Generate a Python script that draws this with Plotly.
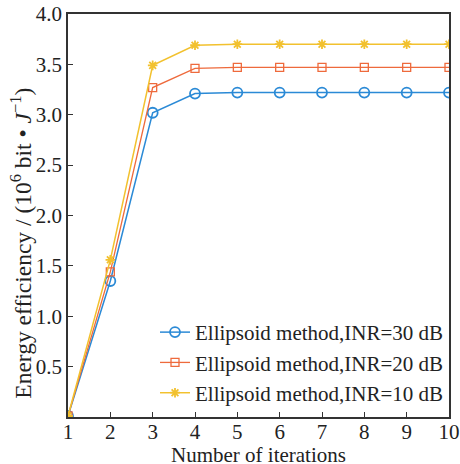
import plotly.graph_objects as go

iterations = [1, 2, 3, 4, 5, 6, 7, 8, 9, 10]
inr30 = [0.01, 1.35, 3.02, 3.21, 3.22, 3.22, 3.22, 3.22, 3.22, 3.22]
inr20 = [0.01, 1.44, 3.27, 3.46, 3.47, 3.47, 3.47, 3.47, 3.47, 3.47]
inr10 = [0.01, 1.56, 3.49, 3.69, 3.70, 3.70, 3.70, 3.70, 3.70, 3.70]
names = ["Ellipsoid method,INR=30 dB", "Ellipsoid method,INR=20 dB", "Ellipsoid method,INR=10 dB"]
x_ticks = [1, 2, 3, 4, 5, 6, 7, 8, 9, 10]
y_ticks = [0.5, 1.0, 1.5, 2.0, 2.5, 3.0, 3.5, 4.0]
x_title = "Number of iterations"
y_title = "Energy efficiency / (10<sup>6</sup> bit • <i>J</i><sup>−1</sup>)"

FONT = "Liberation Serif, Times New Roman, serif"
FS = 21

fig = go.Figure()
fig.add_trace(go.Scatter(x=iterations, y=inr30, name=names[0], mode="lines+markers",
                         line=dict(color="#2b8ad6", width=1.5),
                         marker=dict(symbol="circle-open", size=10, color="#2b8ad6",
                                     line=dict(width=1.8, color="#2b8ad6"))))
fig.add_trace(go.Scatter(x=iterations, y=inr20, name=names[1], mode="lines+markers",
                         line=dict(color="#ee6a3c", width=1.3),
                         marker=dict(symbol="square-open", size=8, color="#ee6a3c",
                                     line=dict(width=1.3, color="#ee6a3c"))))
fig.add_trace(go.Scatter(x=iterations, y=inr10, name=names[2], mode="lines+markers",
                         line=dict(color="#f2c12e", width=1.5),
                         marker=dict(symbol="asterisk-open", size=8, color="#f2c12e",
                                     line=dict(width=1.8, color="#f2c12e"))))

fig.update_layout(
    width=460, height=464,
    margin=dict(l=68, r=11, t=14, b=47, autoexpand=False),
    paper_bgcolor="white", plot_bgcolor="white",
    font=dict(family=FONT, size=FS, color="#222"),
    showlegend=True,
    legend=dict(x=1.0, y=0.01, xanchor="right", yanchor="bottom",
                bgcolor="rgba(255,255,255,0)", borderwidth=0,
                font=dict(family=FONT, size=FS, color="#222"),
                tracegroupgap=0),
    xaxis=dict(range=[1, 10], tickvals=x_ticks, ticks="inside", ticklen=5,
               tickcolor="#333", showline=True, linecolor="#333", linewidth=1.5,
               mirror=True, showgrid=False, zeroline=False, automargin=False,
               ticklabelstandoff=-5,
               tickfont=dict(family=FONT, size=FS)),
    yaxis=dict(range=[0, 4], tickvals=y_ticks, ticktext=[f"{v:.1f}" for v in y_ticks],
               ticks="inside", ticklen=5, tickcolor="#333",
               showline=True, linecolor="#333", linewidth=1.5,
               mirror=True, showgrid=False, zeroline=False, automargin=False,
               tickfont=dict(family=FONT, size=FS)),
    annotations=[
        dict(text=x_title, xref="paper", yref="paper", x=0.5, y=0,
             xanchor="center", yanchor="middle", yshift=-38, showarrow=False,
             font=dict(family=FONT, size=FS, color="#222")),
        dict(text=y_title, xref="paper", yref="paper", x=0, y=0.43,
             xanchor="center", yanchor="middle", xshift=-47, textangle=-90,
             showarrow=False, font=dict(family=FONT, size=23.5, color="#222")),
    ],
)

fig.write_html("out.html", config={"displayModeBar": False},
               post_script="document.body.style.margin='0';document.body.style.overflow='hidden';")
